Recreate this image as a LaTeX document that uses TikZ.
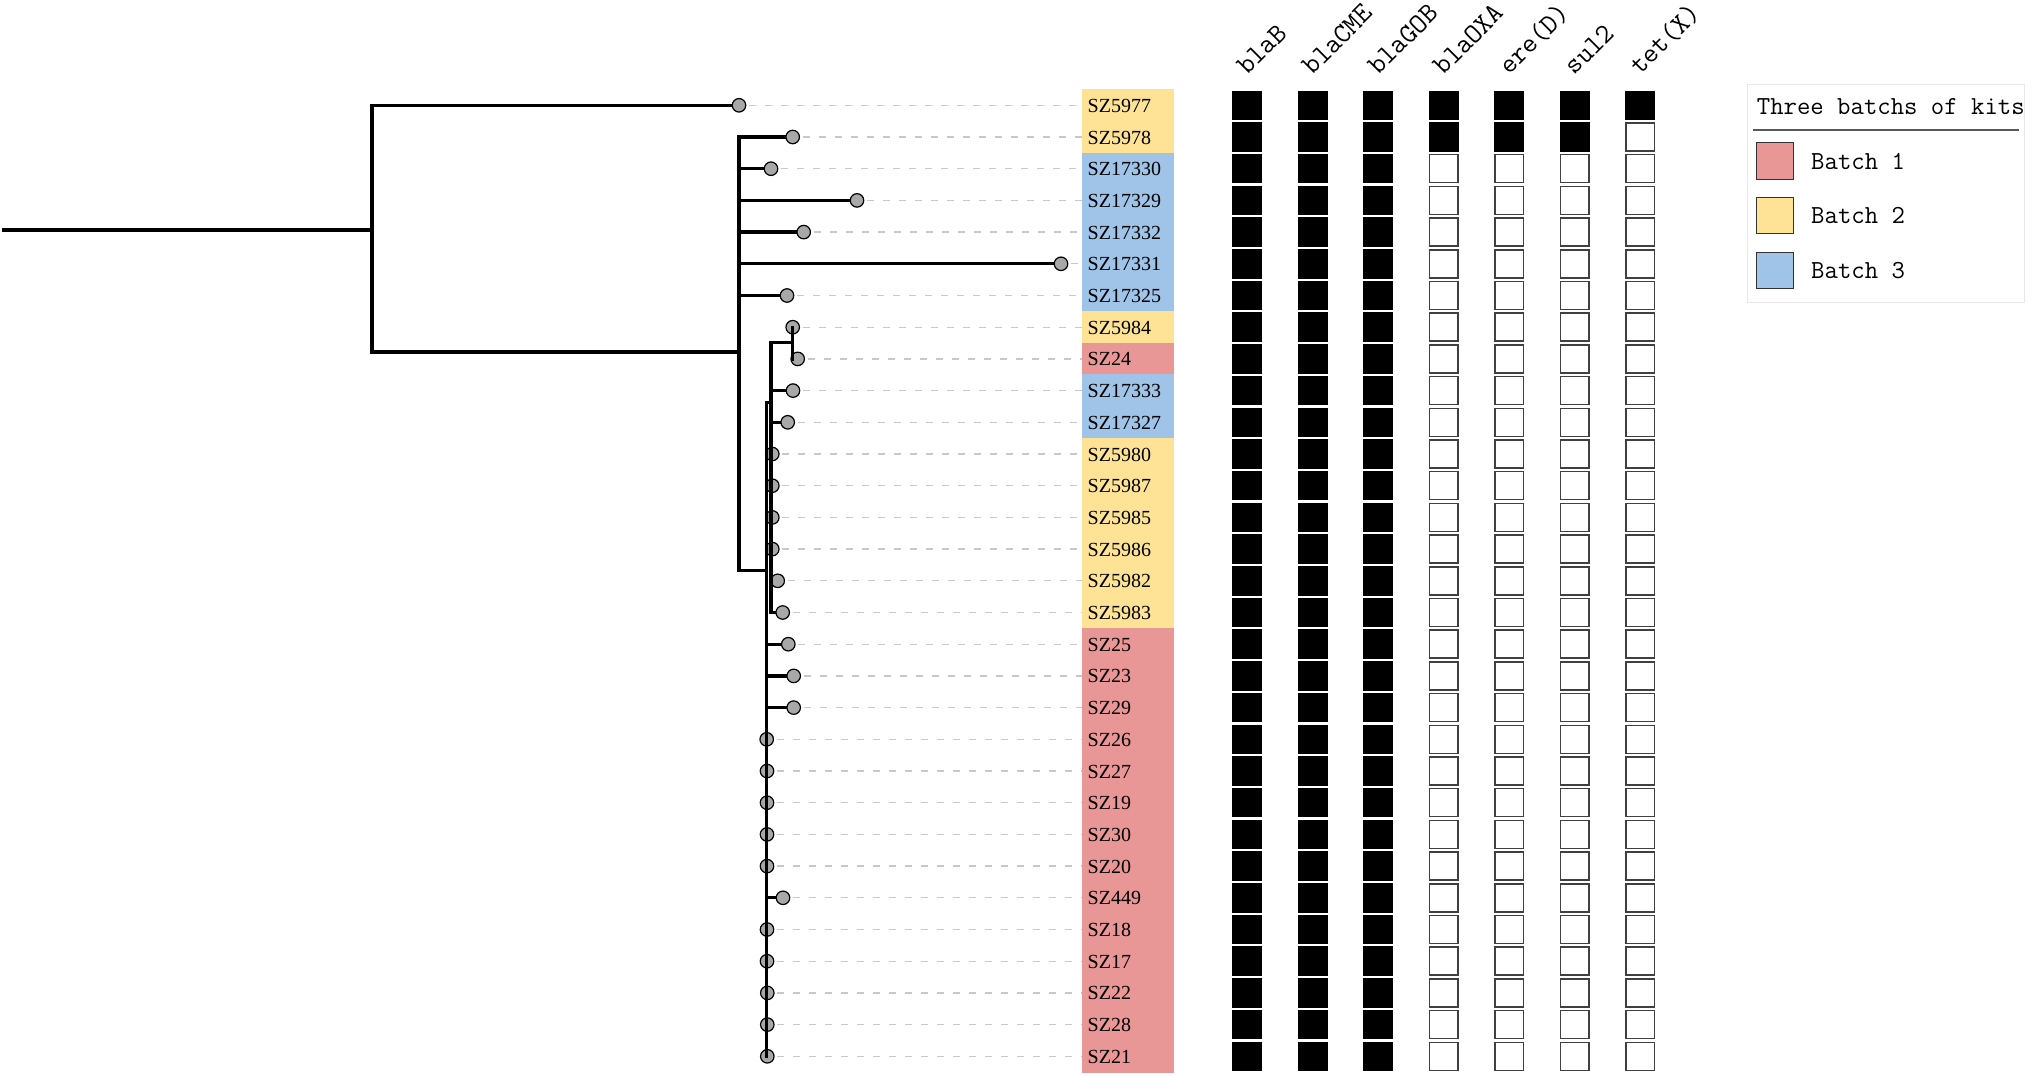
\documentclass[tikz,border=0pt]{standalone}
\usepackage{fontspec}
\setmainfont{Liberation Serif}
\definecolor{byel}{RGB}{254,227,150}
\definecolor{bblu}{RGB}{159,196,232}
\definecolor{bpnk}{RGB}{233,150,150}
\definecolor{tipgray}{RGB}{168,168,168}
\definecolor{dashgray}{RGB}{200,200,200}
\definecolor{legframe}{RGB}{232,232,232}
\tikzset{
  branch/.style={line width=3.3pt, black, line cap=rect},
  tipdot/.style={circle, draw=black, line width=1.2pt, fill=tipgray, minimum size=13.5pt, inner sep=0pt},
  guide/.style={dashgray, line width=1.3pt, dash pattern=on 7pt off 9pt},
  labelbox/.style={minimum width=92pt, minimum height=32.4pt, inner sep=0pt, draw=none, anchor=west},
  labtext/.style={font=\fontsize{20}{20}\selectfont, anchor=base west, inner sep=0pt},
  fullcell/.style={minimum width=30pt, minimum height=29.5pt, inner sep=0pt, fill=black},
  emptycell/.style={minimum width=28.5pt, minimum height=28pt, inner sep=0pt, fill=white, draw=black!75, line width=1.5pt},
  gene/.style={font=\ttfamily\fontsize{28}{28}\selectfont, rotate=45, anchor=base west, inner sep=0pt},
  legtext/.style={font=\ttfamily\fontsize{26}{26}\selectfont, anchor=base west, inner sep=0pt},
  swatch/.style={minimum width=37pt, minimum height=36.5pt, inner sep=0pt, draw=black!80, line width=1pt},
}
\begin{document}
\begin{tikzpicture}[x=1pt,y=-1pt]
\useasboundingbox (0,0) rectangle (2032,1076);
% internal nodes
\coordinate (r0) at (4,230);
\coordinate (n1) at (372,230);
\coordinate (n2) at (739,352);
\coordinate (n3) at (766.5,570.7);
\coordinate (n4) at (771,402.7);
\coordinate (n5) at (792.7,342.7);
% tips: index/name/tip x/colour/parent
\foreach \i/\nm/\tx/\col/\pa in {
  0/SZ5977/739/byel/n1, 1/SZ5978/792.7/byel/n2, 2/SZ17330/771/bblu/n2,
  3/SZ17329/857/bblu/n2, 4/SZ17332/803.7/bblu/n2, 5/SZ17331/1061/bblu/n2,
  6/SZ17325/787/bblu/n2, 7/SZ5984/792.7/byel/n5, 8/SZ24/797.7/bpnk/n5,
  9/SZ17333/793/bblu/n4, 10/SZ17327/787.7/bblu/n4, 11/SZ5980/772.3/byel/n4,
  12/SZ5987/772.3/byel/n4, 13/SZ5985/772.3/byel/n4, 14/SZ5986/772.3/byel/n4,
  15/SZ5982/777.7/byel/n4, 16/SZ5983/782.7/byel/n4, 17/SZ25/788.3/bpnk/n3,
  18/SZ23/793.7/bpnk/n3, 19/SZ29/793.7/bpnk/n3, 20/SZ26/766.7/bpnk/n3,
  21/SZ27/767/bpnk/n3, 22/SZ19/767/bpnk/n3, 23/SZ30/767/bpnk/n3,
  24/SZ20/767/bpnk/n3, 25/SZ449/783/bpnk/n3, 26/SZ18/767/bpnk/n3,
  27/SZ17/767/bpnk/n3, 28/SZ22/767.3/bpnk/n3, 29/SZ28/767.3/bpnk/n3,
  30/SZ21/767.3/bpnk/n3} {
  \pgfmathsetmacro\yy{105.3+31.7*\i}
  \coordinate (t\i) at (\tx,\yy);
  \node[labelbox, fill=\col] (box\i) at (1082,\yy) {};
  \node[labtext] (lab\i) at (1087.5,\yy+7) {\nm};
  \draw[guide] ([xshift=10pt]t\i) -- (box\i.west);
  \draw[branch] (\pa |- t\i) -- (t\i);
  \node[tipdot] (d\i) at (t\i) {};
  \draw[branch] (\pa) -- (\pa |- t\i);
}
% internal branches
\draw[branch] (r0) -- (n1);
\foreach \p/\c in {n1/n2, n2/n3, n3/n4, n4/n5} {
  \draw[branch] (\p) |- (\c);
}
% heatmap
\foreach \i in {0,...,30} {
  \pgfmathsetmacro\yy{105.3+31.7*\i}
  \foreach \j in {0,...,6} {
    \pgfmathsetmacro\xx{1247.3+65.5*\j}
    \pgfmathtruncatemacro\full{((\j<3)||(\i==0)||((\i==1)&&(\j<6)))?1:0}
    \ifnum\full=1
      \node[fullcell] (cell-\i-\j) at (\xx,\yy) {};
    \else
      \node[emptycell] (cell-\i-\j) at (\xx,\yy) {};
    \fi
  }
}
% gene headers
\node[gene] (g0) at (1247.3,76) {blaB};
\node[gene] (g1) at (1312.8,76) {blaCME};
\node[gene] (g2) at (1378.3,76) {blaGOB};
\node[gene] (g3) at (1443.8,76) {blaOXA};
\node[gene] (g4) at (1509.3,76) {ere(D)};
\node[gene] (g5) at (1574.8,76) {sul2};
\node[gene] (g6) at (1640.3,76) {tet(X)};
% legend
\node[draw=legframe, line width=1pt, minimum width=277pt, minimum height=218pt, inner sep=0pt, anchor=north west] (legbox) at (1746.7,84.3) {};
\node[legtext] (legtitle) at (1756.7,114) {Three batchs of kits};
\coordinate (ruleL) at (1752.7,130);
\coordinate (ruleR) at (2019,130);
\draw[black!65, line width=1.8pt] (ruleL) -- (ruleR);
\node[swatch, fill=bpnk] (sw1) at (1774.7,161) {};
\node[swatch, fill=byel] (sw2) at (1774.7,215.5) {};
\node[swatch, fill=bblu] (sw3) at (1774.7,270.3) {};
\node[legtext] (lt1) at (1811,169) {Batch 1};
\node[legtext] (lt2) at (1811,223.5) {Batch 2};
\node[legtext] (lt3) at (1811,278.3) {Batch 3};
\end{tikzpicture}
\end{document}
